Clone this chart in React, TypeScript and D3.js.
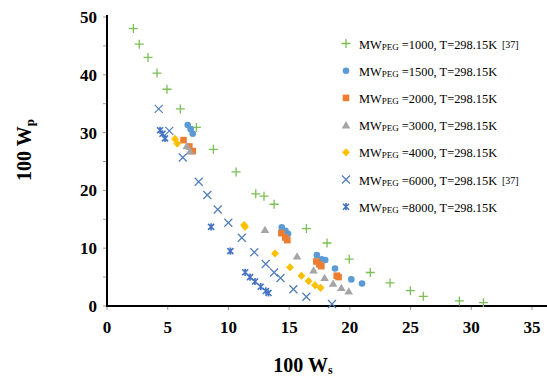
import React, { useRef, useEffect } from 'react'
import * as d3 from 'd3'

// [100 Ws, 100 Wp]
const peg1000: [number, number][] = [
  [2.17, 48.0], [2.66, 45.3], [3.38, 43.0], [4.12, 40.3], [4.94, 37.5], [6.04, 34.1],
  [7.36, 30.9], [8.76, 27.1], [10.63, 23.2], [12.25, 19.4], [12.93, 19.0], [13.76, 17.6],
  [16.42, 13.4], [18.12, 10.9], [19.95, 8.1], [21.68, 5.8], [23.31, 4.0], [24.98, 2.65],
  [26.05, 1.68], [29.02, 0.87], [31.0, 0.57],
]
const peg1500: [number, number][] = [
  [6.65, 31.3], [6.89, 30.6], [7.06, 29.8], [14.39, 13.6], [14.7, 13.0], [14.91, 12.5],
  [17.28, 8.8], [17.67, 8.1], [17.97, 7.96], [18.78, 6.5], [20.12, 4.6], [21.0, 3.9],
]
const peg2000: [number, number][] = [
  [6.3, 28.7], [6.78, 27.6], [7.06, 26.8], [14.36, 12.6], [14.68, 11.85], [14.85, 11.4],
  [17.24, 7.7], [17.49, 7.2], [17.65, 6.9], [18.92, 5.24], [19.07, 5.0],
]
const peg3000: [number, number][] = [
  [6.57, 27.7], [6.84, 26.8], [13.01, 13.2], [15.65, 8.6], [17.01, 6.2], [17.92, 4.9],
  [18.62, 3.9], [19.3, 3.17], [19.91, 2.56],
]
const peg4000: [number, number][] = [
  [5.6, 28.9], [5.79, 28.1], [11.29, 14.0], [11.37, 13.7], [13.84, 9.1], [15.07, 6.7],
  [16.02, 5.24], [16.6, 4.3], [17.13, 3.6], [17.59, 3.15],
]
const peg6000: [number, number][] = [
  [4.26, 34.1], [5.13, 30.3], [6.24, 25.7], [7.55, 21.5], [8.26, 19.2], [9.12, 16.7],
  [9.99, 14.4], [11.1, 11.8], [12.13, 9.3], [13.07, 7.27], [13.76, 5.8], [14.29, 4.84],
  [15.35, 2.9], [16.42, 1.6], [18.53, 0.35],
]
const peg8000: [number, number][] = [
  [4.37, 30.4], [4.57, 29.8], [4.78, 29.0], [8.57, 13.7], [10.16, 9.5], [11.38, 5.83],
  [11.78, 5.0], [12.19, 4.24], [12.66, 3.34], [13.08, 2.6], [13.3, 2.25],
]

const pegWeights = ['1000', '1500', '2000', '3000', '4000', '6000', '8000']
const refs = ['[37]', '', '', '', '', '[37]', '']
const xTicks = [0, 5, 10, 15, 20, 25, 30, 35]
const yTicks = [0, 10, 20, 30, 40, 50]
const yMinorTicks = [0, 5, 10, 15, 20, 25, 30, 35, 40, 45, 50]

type Marker = 'plus' | 'circle' | 'square' | 'triangle' | 'diamond' | 'x' | 'star'

const series: { data: [number, number][]; marker: Marker; color: string }[] = [
  { data: peg1000, marker: 'plus', color: '#7cbf55' },
  { data: peg1500, marker: 'circle', color: '#5b9bd5' },
  { data: peg2000, marker: 'square', color: '#ed7d31' },
  { data: peg3000, marker: 'triangle', color: '#a5a5a5' },
  { data: peg4000, marker: 'diamond', color: '#ffc000' },
  { data: peg6000, marker: 'x', color: '#4f7cb8' },
  { data: peg8000, marker: 'star', color: '#4472c4' },
]

function drawMarker(g: d3.Selection<SVGGElement, unknown, null, undefined>, marker: Marker, color: string) {
  if (marker === 'plus') {
    g.append('path').attr('d', 'M-4.5,0H4.5M0,-4.5V4.5').attr('stroke', color).attr('stroke-width', 1.3).attr('fill', 'none')
  } else if (marker === 'circle') {
    g.append('circle').attr('r', 3.3).attr('fill', color)
  } else if (marker === 'square') {
    g.append('rect').attr('x', -3.3).attr('y', -3.3).attr('width', 6.6).attr('height', 6.6).attr('fill', color)
  } else if (marker === 'triangle') {
    g.append('path').attr('d', 'M0,-4L4.3,3.3H-4.3Z').attr('fill', color)
  } else if (marker === 'diamond') {
    g.append('path').attr('d', 'M0,-3.6L3.4,0L0,3.6L-3.4,0Z').attr('fill', color)
      .attr('stroke', color).attr('stroke-width', 1).attr('stroke-linejoin', 'round')
  } else if (marker === 'x') {
    g.append('path').attr('d', 'M-4,-4L4,4M4,-4L-4,4').attr('stroke', color).attr('stroke-width', 1.2).attr('fill', 'none')
  } else {
    g.append('path').attr('d', 'M-3,-3L3,3M3,-3L-3,3M0,-3.6V3.6').attr('stroke', color).attr('stroke-width', 1.6).attr('fill', 'none')
  }
}

export default function App() {
  const ref = useRef<SVGSVGElement>(null)

  useEffect(() => {
    const svg = d3.select(ref.current)
    svg.selectAll('*').remove()

    const x = d3.scaleLinear().domain([0, 35]).range([107, 532])
    const y = d3.scaleLinear().domain([0, 50]).range([306, 17])
    const font = '"Liberation Serif", "Times New Roman", serif'

    // ticks
    svg.append('g').selectAll('line').data(xTicks).enter().append('line')
      .attr('x1', d => x(d)).attr('x2', d => x(d)).attr('y1', 306).attr('y2', 310)
      .attr('stroke', '#999').attr('stroke-width', 1)
    svg.append('g').selectAll('line').data(yMinorTicks).enter().append('line')
      .attr('x1', 103).attr('x2', 107).attr('y1', d => y(d)).attr('y2', d => y(d))
      .attr('stroke', '#999').attr('stroke-width', 1)

    // axes
    svg.append('line').attr('x1', 107).attr('x2', 547).attr('y1', 306).attr('y2', 306)
      .attr('stroke', '#000').attr('stroke-width', 2)
    svg.append('line').attr('x1', 107).attr('x2', 107).attr('y1', 15).attr('y2', 307)
      .attr('stroke', '#000').attr('stroke-width', 2)

    // tick labels
    svg.append('g').selectAll('text').data(xTicks).enter().append('text')
      .attr('x', d => x(d)).attr('y', 333).attr('text-anchor', 'middle')
      .attr('font-family', font).attr('font-weight', 'bold').attr('font-size', 17)
      .text(d => d)
    svg.append('g').selectAll('text').data(yTicks).enter().append('text')
      .attr('x', 97).attr('y', d => y(d) + 6).attr('text-anchor', 'end')
      .attr('font-family', font).attr('font-weight', 'bold').attr('font-size', 17)
      .text(d => d)

    // axis titles
    const xt = svg.append('text').attr('x', 303).attr('y', 372).attr('text-anchor', 'middle')
      .attr('font-family', font).attr('font-weight', 'bold').attr('font-size', 20)
    xt.append('tspan').text('100 W')
    xt.append('tspan').attr('font-size', 12).attr('dy', 2).text('s')

    const yt = svg.append('text').attr('transform', 'translate(31,150) rotate(-90)').attr('text-anchor', 'middle')
      .attr('font-family', font).attr('font-weight', 'bold').attr('font-size', 20)
    yt.append('tspan').text('100 W')
    yt.append('tspan').attr('font-size', 13).attr('dy', 3).text('p')

    // points
    series.forEach(s => {
      s.data.forEach(([vx, vy]) => {
        const g = svg.append('g').attr('transform', `translate(${x(vx)},${y(vy)})`)
        drawMarker(g, s.marker, s.color)
      })
    })

    // legend
    series.forEach((s, i) => {
      const ly = 43.5 + i * 27.2
      const g = svg.append('g').attr('transform', `translate(346,${ly})`)
      drawMarker(g, s.marker, s.color)
      const t = svg.append('text').attr('x', 359).attr('y', ly + 5)
        .attr('font-family', font).attr('font-size', 12.4).attr('fill', '#000')
      t.append('tspan').text('MW')
      t.append('tspan').attr('font-size', 9).attr('dy', 1).text('PEG')
      t.append('tspan').attr('dy', -1).text(` =${pegWeights[i]}, T=298.15K`)
      if (refs[i]) {
        svg.append('text').attr('x', 502).attr('y', ly + 4)
          .attr('font-family', font).attr('font-size', 10).text(refs[i])
      }
    })
  }, [])

  return (
    <svg ref={ref} width={547} height={378} style={{ position: 'absolute', left: 0, top: 0, background: '#fff' }} />
  )
}
